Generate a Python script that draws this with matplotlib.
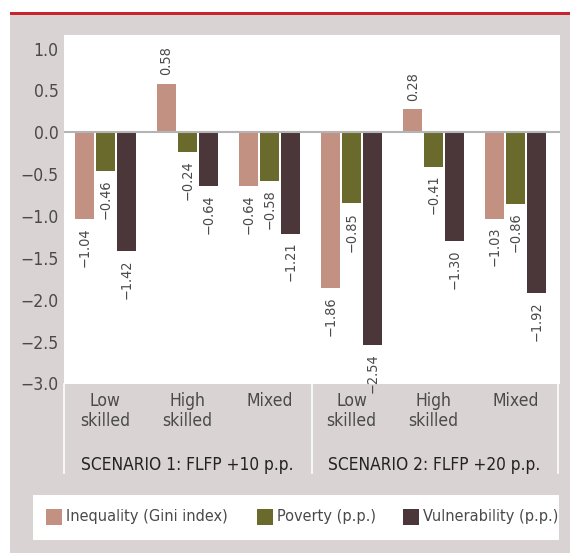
import matplotlib
matplotlib.use("Agg")
import matplotlib.pyplot as plt
from matplotlib import font_manager
from matplotlib.patches import Rectangle

# the reference uses a narrow sans; take a condensed face if one is installed
cond = font_manager.findfont(font_manager.FontProperties(family="DejaVu Sans", stretch="condensed"))
if "Condensed" in cond:
    plt.rcParams["font.family"] = ["DejaVu Sans"]
    plt.rcParams["font.stretch"] = "condensed"
    scale = 0.9
else:
    plt.rcParams["font.family"] = ["Liberation Sans", "DejaVu Sans"]
    scale = 0.92

# data
groups = ["Low\nskilled", "High\nskilled", "Mixed", "Low\nskilled", "High\nskilled", "Mixed"]
scenarios = ["SCENARIO 1: FLFP +10 p.p.", "SCENARIO 2: FLFP +20 p.p."]
series_names = ["Inequality (Gini index)", "Poverty (p.p.)", "Vulnerability (p.p.)"]
inequality = [-1.04, 0.58, -0.64, -1.86, 0.28, -1.03]
poverty = [-0.46, -0.24, -0.58, -0.85, -0.41, -0.86]
vulnerability = [-1.42, -0.64, -1.21, -2.54, -1.30, -1.92]
y_ticks = [1.0, 0.5, 0.0, -0.5, -1.0, -1.5, -2.0, -2.5, -3.0]

colors = ["#c39182", "#6b6a2d", "#4b373a"]
panel_gray = "#d9d3d3"
text_gray = "#4a4a4a"

W, H = 570, 553
fig = plt.figure(figsize=(W / 100, H / 100), dpi=100)
fig.patch.set_facecolor("white")


def fig_rect(x0, y0, w, h, color, z=-10):
    """Rectangle given in pixels from the top-left corner of the figure."""
    fig.patches.append(Rectangle((x0 / W, 1 - (y0 + h) / H), w / W, h / H,
                                 transform=fig.transFigure, facecolor=color,
                                 edgecolor="none", zorder=z))


# gray panel and red rule on top
fig_rect(10, 15, 560, H - 15, panel_gray)
fig_rect(10, 12, 560, 3, "#c9232d")

ax = fig.add_axes([64 / W, (H - 384) / H, 496 / W, 349 / H])
ax.set_zorder(1)
ax.set_facecolor("white")
for s in ax.spines.values():
    s.set_visible(False)

x = list(range(len(groups)))
width = 0.232
step = 0.256
for k, (vals, col) in enumerate(zip([inequality, poverty, vulnerability], colors)):
    xs = [xi + (k - 1) * step for xi in x]
    bars = ax.bar(xs, vals, width=width, color=col, zorder=2)
    for b, v in zip(bars, vals):
        off = 6 if v >= 0 else -6
        ax.annotate(f"{v:.2f}".replace("-", "\u2212"),
                    (b.get_x() + b.get_width() / 2, v),
                    xytext=(0, off), textcoords="offset points",
                    rotation=90, ha="center", va="bottom" if v >= 0 else "top",
                    fontsize=11.5 * scale, color=text_gray)

ax.axhline(0, color="#b4b4b4", lw=1.5, zorder=3)
ax.set_xlim(-0.505, 5.54)
ax.set_ylim(-3.006, 1.162)
ax.set_yticks(y_ticks)
ax.set_yticklabels([f"{t:.1f}".replace("-", "\u2212") for t in y_ticks])
ax.tick_params(axis="y", length=0, pad=4, labelsize=14 * scale, labelcolor=text_gray)
ax.set_xticks([])

# category and scenario labels under the axes
tr = ax.get_xaxis_transform()
for xi, g in zip(x, groups):
    ax.text(xi, -0.022, g, transform=tr, ha="center", va="top",
            fontsize=14 * scale, color=text_gray, linespacing=1.15)
for xi, sc in zip([1, 4], scenarios):
    ax.text(xi, -0.232, sc, transform=tr, ha="center", va="center",
            fontsize=13.8 * scale, color="#222222")
for xs in [-0.505, 2.52, 5.52]:
    ax.plot([xs, xs], [0, -0.255], transform=tr, color="white", lw=1.2,
            clip_on=False)

# legend in a white strip
fig_rect(33, 495, 526, 45, "white", z=-5)
for lx, name, col in zip([46, 257, 403], series_names, colors):
    fig_rect(lx, 509, 16, 16, col, z=-4)
    fig.text((lx + 20) / W, 1 - 517 / H, name, ha="left", va="center",
             fontsize=13 * scale, color=text_gray)

fig.savefig("out.png", dpi=100)
